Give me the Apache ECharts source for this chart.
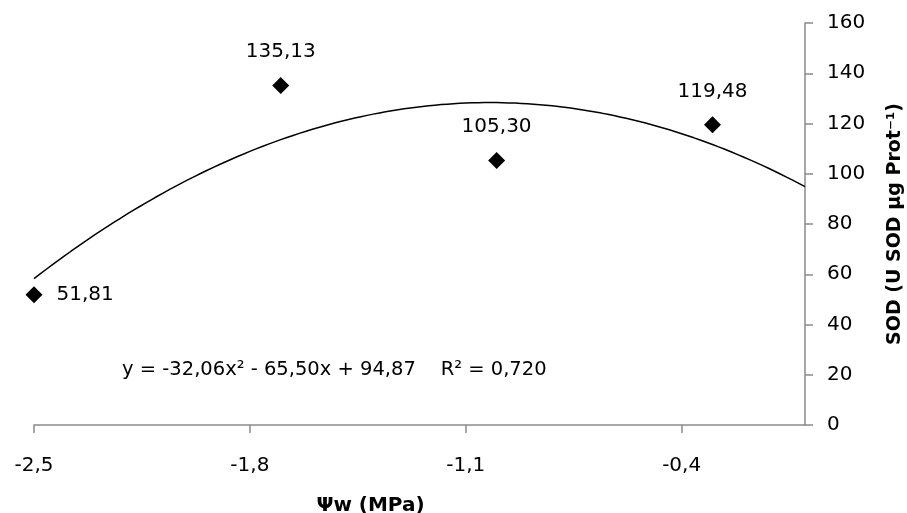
<!DOCTYPE html>
<html>
<head>
<meta charset="utf-8">
<script src="https://cdn.jsdelivr.net/npm/echarts@6/dist/echarts.min.js"></script>
<style>
  html, body { margin: 0; padding: 0; background: #fff; }
  #chart { width: 907px; height: 513px; }
</style>
</head>
<body>
<div id="chart"></div>
<script>
// Water potential (MPa) and measured SOD activity
const waterPotential = [-2.5, -1.7, -1.0, -0.3];
const sodActivity = [51.81, 135.13, 105.30, 119.48];

// Quadratic trendline coefficients: a*x^2 + b*x + c, and its R²
const trendCoef = [-32.06, -65.50, 94.87];
const trendR2 = 0.720;

// Axis ticks
const xTicks = [-2.5, -1.8, -1.1, -0.4];
const yTicks = [0, 20, 40, 60, 80, 100, 120, 140, 160];

const FONT = 'DejaVu Sans';
const comma = (v, d) => v.toFixed(d).replace('.', ',');

// Trendline sampled across the x range
const trend = [];
for (let i = 0; i <= 125; i++) {
  const x = -2.5 + i * 0.02;
  trend.push([x, trendCoef[0] * x * x + trendCoef[1] * x + trendCoef[2]]);
}

// Per-point label placement
const labelPos = ['right', 'top', 'top', 'top'];
const points = waterPotential.map((x, i) => ({
  value: [x, sodActivity[i]],
  label: { position: labelPos[i], distance: labelPos[i] === 'right' ? 14 : 15 }
}));

const sign = v => (v < 0 ? '- ' : '+ ');
const eqText = 'y = ' + comma(trendCoef[0], 2) + 'x² ' + sign(trendCoef[1]) + comma(Math.abs(trendCoef[1]), 2) +
  'x ' + sign(trendCoef[2]) + comma(Math.abs(trendCoef[2]), 2) + '    R² = ' + comma(trendR2, 3);

const axisColor = '#8a8a8a';
const chart = echarts.init(document.getElementById('chart'));
chart.setOption({
  animation: false,
  backgroundColor: '#fff',
  grid: { left: 34, right: 102, top: 23, bottom: 88, containLabel: false, outerBoundsMode: 'none' },
  xAxis: {
    type: 'value', min: -2.5, max: 0,
    name: 'Ψw (MPa)', nameLocation: 'middle', nameGap: 71,
    nameTextStyle: { fontFamily: FONT, fontWeight: 'bold', fontSize: 20, color: '#000', padding: [0, 98, 0, 0] },
    axisLine: { show: true, onZero: false, lineStyle: { color: axisColor, width: 1.5 } },
    axisTick: { show: true, length: 8, customValues: xTicks, lineStyle: { color: axisColor, width: 1.5 } },
    axisLabel: { customValues: xTicks, margin: 31, fontFamily: FONT, fontSize: 20, color: '#000',
      formatter: v => comma(v, 1) },
    splitLine: { show: false }
  },
  yAxis: {
    type: 'value', position: 'right', min: 0, max: 160, interval: 20,
    name: 'SOD (U SOD µg Prot⁻¹)', nameLocation: 'middle', nameGap: 81,
    nameTextStyle: { fontFamily: FONT, fontWeight: 'bold', fontSize: 19, color: '#000' },
    axisLine: { show: true, onZero: false, lineStyle: { color: axisColor, width: 1.5 } },
    axisTick: { show: true, length: 8, customValues: yTicks, lineStyle: { color: axisColor, width: 1.5 } },
    axisLabel: { customValues: yTicks, margin: 22, fontFamily: FONT, fontSize: 20, color: '#000' },
    splitLine: { show: false }
  },
  series: [
    {
      type: 'line', data: trend, showSymbol: false, smooth: false, silent: true,
      lineStyle: { color: '#000', width: 1.5 }, z: 2
    },
    {
      type: 'scatter', data: points, symbol: 'diamond', symbolSize: 17,
      itemStyle: { color: '#000', opacity: 1 }, z: 3,
      label: { show: true, fontFamily: FONT, fontSize: 20, color: '#000',
        formatter: p => comma(p.value[1], 2) }
    }
  ],
  graphic: [
    {
      type: 'text', left: 122, top: 360,
      style: { text: eqText, font: '19.5px "DejaVu Sans"', fill: '#000' }
    }
  ]
});
</script>
</body>
</html>
